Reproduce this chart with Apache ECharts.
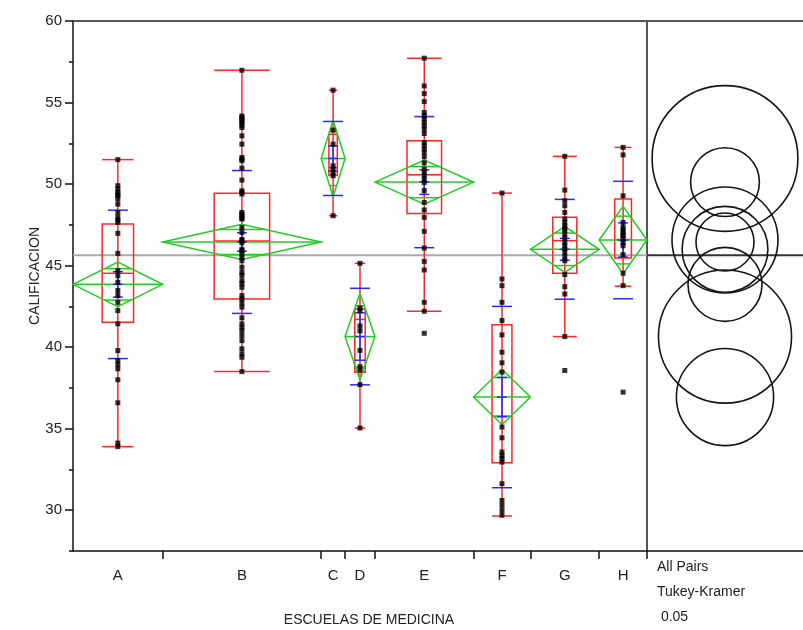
<!DOCTYPE html>
<html><head><meta charset="utf-8">
<script src="https://cdn.jsdelivr.net/npm/echarts@6/dist/echarts.min.js"></script>
<style>html,body{margin:0;padding:0;background:#fff}#c{width:803px;height:630px}</style>
</head><body><div id="c"></div>
<script>
// ---- data ----
const groups = ['A','B','C','D','E','F','G','H'];
const counts = [30,53,8,10,33,19,23,16];
const means = [43.85,46.45,51.57,40.65,50.12,36.94,46.0,46.57];
const ciHalf = [1.36,1.08,2.35,2.65,1.35,1.70,1.41,2.07];
const stdDevs = [4.55,4.38,2.27,2.96,4.02,5.56,3.06,3.60];
const stdErrs = [0.78,0.57,0.77,1.45,0.75,1.20,0.67,1.05];
const q1s = [41.53,42.95,50.53,38.46,48.2,32.91,44.53,45.47];
const medians = [44.53,46.51,51.0,41.7,50.57,35.77,46.53,46.6];
const q3s = [47.55,49.43,53.05,42.34,52.65,41.38,47.96,49.08];
const whiskerLow = [33.9,38.5,48.06,35.04,42.2,29.65,40.65,43.74];
const whiskerHigh = [51.5,56.98,55.76,45.14,57.72,49.45,51.7,52.25];
const circleRadius = [2.27,1.78,4.47,4.08,2.11,2.98,2.63,3.25];
const grandMean = 45.63;
const yTicks = [30,35,40,45,50,55,60];
const pointsA = [51.5,49.9,49.69,49.49,49.35,49.28,49.08,48.77,48.26,47.96,47.8,47.65,46.98,45.75,44.69,44.38,43.98,43.47,43.16,42.75,42.24,41.43,39.79,39.18,38.93,38.67,38.0,36.59,34.12,33.9];
const pointsB = [56.98,54.18,54.08,53.98,53.88,53.78,53.6,53.47,52.96,52.45,51.63,51.53,51.43,50.98,50.24,49.59,49.5,49.39,48.26,48.16,48.06,47.9,47.86,47.34,47.04,46.6,46.53,46.4,46.0,45.92,45.71,45.5,45.3,44.9,44.59,44.4,44.08,43.9,43.67,43.16,42.96,42.7,42.45,41.8,41.43,41.22,41.0,40.71,40.4,39.9,39.59,39.38,38.5];
const pointsC = [55.76,53.31,52.45,51.12,50.92,50.71,50.51,48.06];
const pointsD = [45.14,42.4,42.25,41.3,41.0,39.8,38.8,38.6,37.7,35.04];
const pointsE = [57.72,56.02,55.55,55.06,54.39,54.18,53.98,53.78,53.57,53.37,53.1,52.55,52.35,52.14,51.94,51.67,51.3,50.92,50.71,50.51,50.31,50.1,49.6,48.87,48.41,47.96,47.1,46.08,45.26,44.73,42.75,42.2,40.85];
const pointsF = [49.45,44.18,43.77,42.75,41.63,40.75,39.69,39.04,38.47,35.1,34.44,33.57,33.36,33.16,32.95,31.63,30.6,30.3,29.99,29.69];
const pointsG = [51.7,49.63,48.98,48.67,48.26,47.86,47.65,47.45,47.3,47.18,46.94,46.7,46.42,46.22,46.02,45.81,45.55,45.3,44.45,43.71,43.26,40.65,38.57];
const pointsH = [52.25,51.79,49.28,47.65,47.34,47.2,47.04,46.9,46.83,46.63,46.42,46.22,45.67,44.53,43.77,37.24];
const groupPoints = [pointsA,pointsB,pointsC,pointsD,pointsE,pointsF,pointsG,pointsH];

// ---- derived layout (widths proportional to group size) ----
const bounds = [0];
counts.forEach(n => bounds.push(bounds[bounds.length-1] + n));
const total = bounds[bounds.length-1];
const mids = groups.map((g,i) => (bounds[i] + bounds[i+1]) / 2);

const FONT = '"Liberation Sans", Arial, sans-serif';
const RED = '#ff2626', GREEN = '#22cc22', BLUE = '#2a2aff';
const LW = 1.5;

function renderStats(params, api) {
  const i = api.value(2);
  const x0 = bounds[i], x1 = bounds[i+1], xc = mids[i];
  const W = api.size([x1 - x0, 0])[0];
  const cx = api.coord([xc, means[i]])[0];
  const xl = api.coord([x0, means[i]])[0], xr = api.coord([x1, means[i]])[0];
  const yp = v => api.coord([xc, v])[1];
  const ch = [];
  const line = (xa, ya, xb, yb, c) => ch.push({type:'line', shape:{x1:xa,y1:ya,x2:xb,y2:yb}, style:{stroke:c, lineWidth:LW}});
  const bw = W * 0.35;
  // box plot (red)
  line(cx, yp(whiskerLow[i]), cx, yp(whiskerHigh[i]), RED);
  line(cx-bw/2, yp(whiskerLow[i]), cx+bw/2, yp(whiskerLow[i]), RED);
  line(cx-bw/2, yp(whiskerHigh[i]), cx+bw/2, yp(whiskerHigh[i]), RED);
  ch.push({type:'rect', shape:{x:cx-bw/2, y:yp(q3s[i]), width:bw, height:yp(q1s[i])-yp(q3s[i])}, style:{fill:'none', stroke:RED, lineWidth:LW}});
  line(cx-bw/2, yp(medians[i]), cx+bw/2, yp(medians[i]), RED);
  // means diamond (green)
  const m = means[i], ci = ciHalf[i];
  ch.push({type:'polygon', shape:{points:[[xl,yp(m)],[cx,yp(m+ci)],[xr,yp(m)],[cx,yp(m-ci)]]}, style:{fill:'none', stroke:GREEN, lineWidth:LW}});
  line(xl, yp(m), xr, yp(m), GREEN);
  const h = ci / Math.SQRT2, hw = (W/2) * (1 - 1/Math.SQRT2);
  line(cx-hw, yp(m+h), cx+hw, yp(m+h), GREEN);
  line(cx-hw, yp(m-h), cx+hw, yp(m-h), GREEN);
  // std dev and std error (blue)
  const sd = stdDevs[i], se = stdErrs[i];
  line(cx-10, yp(m+sd), cx+10, yp(m+sd), BLUE);
  line(cx-10, yp(m-sd), cx+10, yp(m-sd), BLUE);
  line(cx, yp(m+se), cx, yp(m-se), BLUE);
  line(cx-5, yp(m+se), cx+5, yp(m+se), BLUE);
  line(cx-5, yp(m-se), cx+5, yp(m-se), BLUE);
  line(cx-5, yp(m), cx+5, yp(m), BLUE);
  return {type:'group', children:ch};
}

function renderCircle(params, api) {
  const i = api.value(2);
  const c = api.coord([0.5, means[i]]);
  const r = api.size([0, circleRadius[i]])[1];
  return {type:'circle', shape:{cx:c[0], cy:c[1], r:r}, style:{fill:'none', stroke:'#151515', lineWidth:1.6}};
}

function renderGrand(color, width) {
  return function(params, api) {
    const cs = params.coordSys;
    const y = api.coord([0, grandMean])[1];
    return {type:'line', shape:{x1:cs.x, y1:y, x2:cs.x+cs.width, y2:y}, style:{stroke:color, lineWidth:width}};
  };
}

const scatterData = [];
groupPoints.forEach((arr, i) => arr.forEach(v => scatterData.push([mids[i], v])));

const chart = echarts.init(document.getElementById('c'), null, {renderer:'canvas'});
chart.setOption({
  animation: false,
  backgroundColor: '#fff',
  grid: [
    {left:73, top:21, width:574, height:530},
    {left:647, top:21, width:156, height:530}
  ],
  xAxis: [
    {type:'value', gridIndex:0, min:0, max:total, position:'bottom',
     axisLine:{show:true, onZero:false, lineStyle:{color:'#111', width:1.5}},
     axisTick:{show:true, length:8, customValues: bounds.slice(1), lineStyle:{color:'#111', width:1.5}},
     axisLabel:{show:true, customValues: mids, margin:17, fontSize:15, fontFamily:FONT, color:'#222',
       formatter: v => { const k = mids.findIndex(mm => Math.abs(mm - v) < 1e-6); return k >= 0 ? groups[k] : ''; }},
     splitLine:{show:false}},
    {type:'value', gridIndex:0, min:0, max:total, position:'top',
     axisLine:{show:true, onZero:false, lineStyle:{color:'#555', width:2}},
     axisTick:{show:false}, axisLabel:{show:false}, splitLine:{show:false}},
    {type:'value', gridIndex:1, min:0, max:1, position:'bottom',
     axisLine:{show:true, onZero:false, lineStyle:{color:'#111', width:1.5}},
     axisTick:{show:false}, axisLabel:{show:false}, splitLine:{show:false}},
    {type:'value', gridIndex:1, min:0, max:1, position:'top',
     axisLine:{show:true, onZero:false, lineStyle:{color:'#555', width:2}},
     axisTick:{show:false}, axisLabel:{show:false}, splitLine:{show:false}}
  ],
  yAxis: [
    {type:'value', gridIndex:0, min:27.5, max:60, position:'left',
     axisLine:{show:true, onZero:false, lineStyle:{color:'#111', width:1.5}},
     axisTick:{show:true, length:8, customValues:yTicks, lineStyle:{color:'#111', width:1.5}},
     axisLabel:{show:true, customValues:yTicks, margin:11, fontSize:15, fontFamily:FONT, color:'#222'},
     splitLine:{show:false}},
    {type:'value', gridIndex:0, min:27.5, max:60, interval:2.5, position:'left',
     axisLine:{show:false}, axisTick:{show:true, length:4, lineStyle:{color:'#111', width:1.5}},
     axisLabel:{show:false}, splitLine:{show:false}},
    {type:'value', gridIndex:1, min:27.5, max:60, position:'left',
     axisLine:{show:true, onZero:false, lineStyle:{color:'#555', width:2}},
     axisTick:{show:false}, axisLabel:{show:false}, splitLine:{show:false}}
  ],
  series: [
    {type:'custom', name:'grand', xAxisIndex:0, yAxisIndex:0, z:1, silent:true, clip:false,
     renderItem: renderGrand('#aaaaaa', 2), data:[[0, grandMean, 0]]},
    {type:'custom', name:'grand2', xAxisIndex:2, yAxisIndex:2, z:1, silent:true, clip:false,
     renderItem: renderGrand('#333333', 2), data:[[0, grandMean, 0]]},
    {type:'custom', name:'stats', xAxisIndex:0, yAxisIndex:0, z:2, silent:true, clip:false,
     renderItem: renderStats, data: groups.map((g,i) => [mids[i], means[i], i])},
    {type:'scatter', name:'points', xAxisIndex:0, yAxisIndex:0, z:3, silent:true,
     symbol:'rect', symbolSize:5, itemStyle:{color:'#000'}, data: scatterData},
    {type:'custom', name:'circles', xAxisIndex:2, yAxisIndex:2, z:2, silent:true, clip:false,
     renderItem: renderCircle, data: groups.map((g,i) => [0.5, means[i], i])}
  ],
  graphic: [
    {type:'text', x:35, y:276, rotation:Math.PI/2, style:{text:'CALIFICACION', fontSize:14, fontFamily:FONT, fill:'#222', align:'center', verticalAlign:'middle'}},
    {type:'text', x:369, y:620, style:{text:'ESCUELAS DE MEDICINA', fontSize:14, fontFamily:FONT, fill:'#222', align:'center', verticalAlign:'middle'}},
    {type:'text', x:657, y:567, style:{text:'All Pairs', fontSize:14, fontFamily:FONT, fill:'#222', align:'left', verticalAlign:'middle'}},
    {type:'text', x:657, y:592, style:{text:'Tukey-Kramer', fontSize:14, fontFamily:FONT, fill:'#222', align:'left', verticalAlign:'middle'}},
    {type:'text', x:657, y:617, style:{text:' 0.05', fontSize:14, fontFamily:FONT, fill:'#222', align:'left', verticalAlign:'middle'}}
  ]
});
</script></body></html>
